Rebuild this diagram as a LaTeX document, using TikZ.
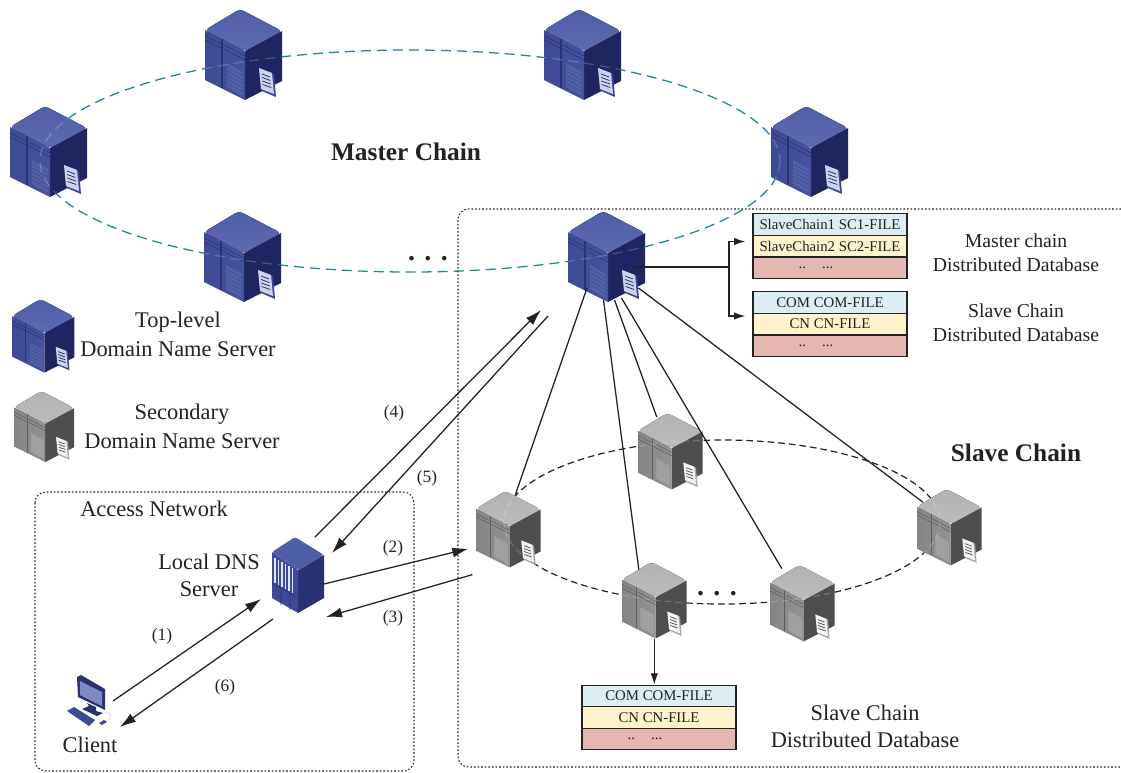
\documentclass[tikz,border=0pt]{standalone}
\usepackage{fontspec}
\setmainfont{Liberation Serif}
\usetikzlibrary{arrows.meta,calc}
\definecolor{inkc}{HTML}{222222}
\definecolor{tealc}{HTML}{1F85A0}
\definecolor{rowA}{HTML}{DCEEF3}
\definecolor{rowB}{HTML}{FFF3CC}
\definecolor{rowC}{HTML}{E6B7B2}
\definecolor{screenc}{HTML}{7F89C6}
% server palettes
\definecolor{blueT}{HTML}{4F5EA8}\definecolor{blueTb}{HTML}{5E6AB2}
\definecolor{blueL}{HTML}{3E4A95}\definecolor{blueLb}{HTML}{4652A0}
\definecolor{blueR}{HTML}{1F2560}\definecolor{blueD}{HTML}{2A3170}
\definecolor{blueG}{HTML}{5360A8}\definecolor{blueP}{HTML}{CDD2EC}
\definecolor{blueF}{HTML}{3B4690}\definecolor{blueK}{HTML}{3B4690}
\definecolor{grayT}{HTML}{B2B2B2}\definecolor{grayTb}{HTML}{BCBCBC}
\definecolor{grayL}{HTML}{858585}\definecolor{grayLb}{HTML}{929292}
\definecolor{grayR}{HTML}{4E4E4E}\definecolor{grayD}{HTML}{5C5C5C}
\definecolor{grayG}{HTML}{A0A0A0}\definecolor{grayP}{HTML}{F4F4F4}
\definecolor{grayF}{HTML}{A8A8A8}\definecolor{grayK}{HTML}{A0A0A0}
\tikzset{
  lbl/.style={font=\fontsize{14.8}{16}\selectfont,text=inkc,inner sep=0pt},
  lblbig/.style={font=\fontsize{16.8}{18}\selectfont,text=inkc,inner sep=0pt},
  numlbl/.style={font=\fontsize{13}{14}\selectfont,text=inkc,inner sep=0pt},
  ttl/.style={font=\fontsize{19}{20}\selectfont\bfseries,text=inkc,inner sep=0pt},
  dotsl/.style={font=\fontsize{21}{22}\selectfont\bfseries,text=inkc,inner sep=0pt,anchor=base},
  rowbox/.style={draw=inkc,line width=.8pt,minimum width=115.5pt,minimum height=16.2pt,inner sep=0pt,
    font=\fontsize{11.1}{12}\selectfont,text=inkc},
  masterring/.style={dash pattern=on 7.5pt off 4.5pt,line width=.95pt},
  slavering/.style={dash pattern=on 5pt off 3pt,line width=.9pt},
  dotbox/.style={dash pattern=on 1.2pt off 1.5pt,line width=.8pt,rounded corners=8pt,draw=inkc},
  conn/.style={draw=inkc,line width=.95pt},
  arr/.style={conn,-{Latex[length=12pt,width=7.5pt]}},
  busarr/.style={conn,line width=1.1pt,-{Latex[length=8.5pt,width=5.5pt]}},
  srvbox/.style={inner sep=0pt,outer sep=0pt},
  ghost/.style={white,opacity=.2},
}
% #1 name, #2 left, #3 top, #4 scale, #5 palette
\newcommand{\srv}[5]{%
  \node[srvbox,minimum width={#4*57.75pt},minimum height={#4*69pt}] (#1) at (#2+#4*38.5,#3+#4*46) {};
  \begin{scope}[shift={(#2,#3)},scale=#4]
    \fill[#5R] (40,42) -- (77,22) -- (77,72) -- (40,91) -- cycle;
    \shade[left color=#5L,right color=#5Lb] (0,21) -- (40,42) -- (40,91) -- (0,71) -- cycle;
    \fill[top color=#5T,bottom color=#5Tb,rounded corners=3pt] (0,21) -- (35,0) -- (77,22) -- (40,42) -- cycle;
    \draw[#5D,line width=1pt] (17,30) -- (17,79);
    \draw[#5D,line width=.4pt] (0,27) -- (16,35) (0,31) -- (16,39) (19,36) -- (40,47) (19,40) -- (40,51);
    \fill[#5G] (22,54) -- (38,63) -- (38,87) -- (22,78) -- cycle;
    \draw[#5K,line width=.3pt] (22,58) -- (38,67) (22,62) -- (38,71) (22,66) -- (38,75) (22,70) -- (38,79) (22,74) -- (38,83);
    \fill[#5F] (54,59) -- (69,65) -- (71,88) -- (57,82) -- cycle;
    \fill[#5P] (54,59) -- (67,64) -- (69,85) -- (56,80) -- cycle;
    \draw[#5R,line width=.55pt] (57,65) -- (65,68) (57.2,68.5) -- (65.4,71.5) (57.4,72) -- (65.8,75) (57.6,75.5) -- (66.2,78.5);
  \end{scope}}
% faint ring seen through a server: #1 left, #2 top, #3 scale, #4 style, #5 ring centre, #6 a, #7 b
\newcommand{\seethrough}[7]{%
  \begin{scope}
    \clip[shift={(#1,#2)},scale=#3] (0,21) -- (35,0) -- (77,22) -- (77,72) -- (40,91) -- (0,71) -- cycle;
    \draw[ghost,#4] #5 ellipse [x radius=#6,y radius=#7];
  \end{scope}}
\begin{document}
\begin{tikzpicture}[x=.75pt,y=-.75pt]
\useasboundingbox (0,0) rectangle (1121,772);
\fill[white] (0,0) rectangle (1121,772);
% rings and boxes
\draw[tealc,masterring] (410,161) ellipse [x radius=370,y radius=111];
\draw[inkc,slavering] (722,522) ellipse [x radius=218,y radius=82];
\draw[dotbox] (1121,209) -- (458,209) -- (458,767) -- (1121,767);
\draw[dotbox] (35,492) rectangle (414,771);
% top-level servers
\srv{a1}{205}{9}{1}{blue}
\srv{a2}{544}{9}{1}{blue}
\srv{a3}{10}{106}{1}{blue}
\srv{a4}{771}{106}{1}{blue}
\srv{a5}{204}{211}{1}{blue}
\srv{master}{568}{211}{1}{blue}
\srv{legA}{12}{299}{.81}{blue}
% secondary servers
\srv{s1}{476}{491}{.84}{gray}
\srv{s2}{638}{413}{.84}{gray}
\srv{s3}{917}{489}{.84}{gray}
\srv{s4}{622}{562}{.84}{gray}
\srv{s5}{770}{565}{.84}{gray}
\srv{legB}{14}{391}{.78}{gray}
% rings seen through servers
\seethrough{205}{9}{1}{masterring}{(410,161)}{370}{111}
\seethrough{544}{9}{1}{masterring}{(410,161)}{370}{111}
\seethrough{10}{106}{1}{masterring}{(410,161)}{370}{111}
\seethrough{771}{106}{1}{masterring}{(410,161)}{370}{111}
\seethrough{204}{211}{1}{masterring}{(410,161)}{370}{111}
\seethrough{568}{211}{1}{masterring}{(410,161)}{370}{111}
\seethrough{476}{491}{.84}{slavering}{(722,522)}{218}{82}
\seethrough{638}{413}{.84}{slavering}{(722,522)}{218}{82}
\seethrough{917}{489}{.84}{slavering}{(722,522)}{218}{82}
\seethrough{622}{562}{.84}{slavering}{(722,522)}{218}{82}
\seethrough{770}{565}{.84}{slavering}{(722,522)}{218}{82}
% local DNS
\node[srvbox,minimum width=39pt,minimum height=57pt] (ldns) at (298,575) {};
\begin{scope}[shift={(272,537)}]
  \fill[blueD] (26,33) -- (52,18) -- (52,61) -- (26,76) -- cycle;
  \fill[blueL] (0,15) -- (26,33) -- (26,76) -- (0,61) -- cycle;
  \fill[blueT,rounded corners=2pt] (0,15) -- (23,0) -- (52,18) -- (26,33) -- cycle;
  \foreach \i in {3,6.5,10,13.5,17,20.5}
    \draw[white!85!blueL,line width=1.2pt] (\i,19+\i*.6) -- (\i,44+\i*.6);
  \draw[blueD,line width=.4pt] (0,46) -- (26,61) (9,51) -- (9,68) (18,56) -- (18,73);
\end{scope}
% client
\node[srvbox,minimum width=33pt,minimum height=40pt] (client) at (85,700) {};
\fill[blueD] (77,677) -- (81,675) -- (105,689) -- (105,710) -- (78,697) -- cycle;
\fill[screenc] (80,681) -- (102,692) -- (102,706) -- (80,695) -- cycle;
\fill[blueD] (87,703) -- (96,707) -- (96,711) -- (103,713) -- (97,716) -- (82,709) -- (89,706) -- cycle;
\fill[blueL] (67,711) -- (74,707) -- (95,720) -- (89,726) -- cycle;
\fill[blueL] (99,723) -- (104,720) -- (107,722) -- (102,725) -- cycle;
\draw[gray!40,line width=.4pt] (104,712) .. controls (112,712) and (114,718) .. (106,721);
% connectors from the master server
\draw[conn] ([shift={(-19.5,31)}]master.center) -- ([shift={(7,-35)}]s1.center);
\draw[conn] ([shift={(-3,43)}]master.center) -- ([shift={(-15.5,-31)}]s4.center);
\draw[conn] ([shift={(8,43)}]master.center) -- ([shift={(-13.5,-34.5)}]s2.center);
\draw[conn] ([shift={(15,41)}]master.center) -- ([shift={(-20.5,-35)}]s5.center);
\draw[conn] ([shift={(32,31)}]master.center) -- ([shift={(-26.5,-25.5)}]s3.center);
% tables
\newcommand{\emptyrow}{..\hspace{1.1em}...\hspace{1.9em}\null}
\node[rowbox,fill=rowA] (t1a) at (830,224.5) {SlaveChain1 SC1-FILE};
\node[rowbox,fill=rowB] (t1b) at (830,246) {SlaveChain2 SC2-FILE};
\node[rowbox,fill=rowC] (t1c) at (830,268) {\emptyrow};
\node[rowbox,fill=rowA] (t2a) at (830,302.5) {COM COM-FILE};
\node[rowbox,fill=rowB] (t2b) at (830,324) {CN CN-FILE};
\node[rowbox,fill=rowC] (t2c) at (830,346) {\emptyrow};
\node[rowbox,fill=rowA] (t3a) at (659,696) {COM COM-FILE};
\node[rowbox,fill=rowB] (t3b) at (659,717.5) {CN CN-FILE};
\node[rowbox,fill=rowC] (t3c) at (659,739) {\emptyrow};
% bus
\coordinate (busT) at ([shift={(-7,17)}]t1a.west);
\coordinate (busB) at ([shift={(-7,13.5)}]t2a.west);
\coordinate (busM) at ([shift={(27,10)}]master.center);
\coordinate (busJ) at (729,267);
\draw[conn,line width=1.1pt] (busM) -- (busJ);
\draw[busarr] (busJ) |- (busT);
\draw[busarr] (busJ) |- (busB);
\draw[conn,-{Latex[length=8.5pt,width=5.5pt]}] (s4.south) -- (s4.south |- t3a.north);
% protocol arrows
\draw[arr] ([shift={(28,1)}]client.center) -- ([shift={(-37,24)}]ldns.center);
\draw[arr] ([shift={(-25,44)}]ldns.center) -- ([shift={(35,27)}]client.center);
\draw[arr] ([shift={(17,-38)}]ldns.center) -- ([shift={(-65.5,53)}]master.center);
\draw[arr] ([shift={(-58.5,59)}]master.center) -- ([shift={(34,-22)}]ldns.center);
\draw[arr] ([shift={(26,9)}]ldns.center) -- ([shift={(-40,19)}]s1.center);
\draw[arr] ([shift={(-36,45)}]s1.center) -- ([shift={(28,42)}]ldns.center);
% labels
\node[ttl] (tM) at (406,152) {Master Chain};
\node[ttl] (tS) at (1016,453) {Slave Chain};
\node[dotsl] (d1) at (428,260) {.\,\,.\,\,.};
\node[dotsl] (d2) at (717,595) {.\,\,.\,\,.};
\node[lblbig] (l1) at (178,322) {Top-level};
\node[lblbig] (l2) at (178,349) {Domain Name Server};
\node[lblbig] (l3) at (182,414) {Secondary};
\node[lblbig] (l4) at (182,441) {Domain Name Server};
\node[lblbig] (l5) at (154,509) {Access Network};
\node[lblbig] (l6) at (209,562) {Local DNS};
\node[lblbig] (l7) at (209,589) {Server};
\node[lblbig] (l8) at (90,745) {Client};
\node[lbl] (l9) at (1016,241) {Master chain};
\node[lbl] (l10) at (1016,265) {Distributed Database};
\node[lbl] (l11) at (1016,311) {Slave Chain};
\node[lbl] (l12) at (1016,335) {Distributed Database};
\node[lblbig] (l13) at (865,713) {Slave Chain};
\node[lblbig] (l14) at (865,740) {Distributed Database};
\node[numlbl] (n1) at (162,636) {(1)};
\node[numlbl] (n2) at (393,548) {(2)};
\node[numlbl] (n3) at (393,618) {(3)};
\node[numlbl] (n4) at (394,413) {(4)};
\node[numlbl] (n5) at (427,478) {(5)};
\node[numlbl] (n6) at (225,687) {(6)};
\end{tikzpicture}
\end{document}
